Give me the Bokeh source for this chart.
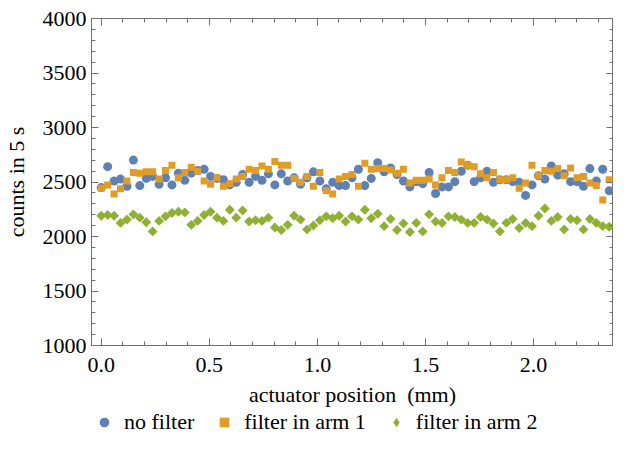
import numpy as np
from math import pi
from bokeh.plotting import figure
from bokeh.layouts import column
from bokeh.models import (LinearAxis, Legend, LegendItem, Range1d,
                          SingleIntervalTicker, PrintfTickFormatter)
from bokeh.embed import file_html
from bokeh.resources import INLINE

# actuator positions (mm), regular scan of 80 steps
position = np.linspace(0.0, 2.35, 80)

no_filter = [2449, 2641, 2509, 2527, 2461, 2701, 2467, 2533, 2551, 2479,
             2539, 2473, 2581, 2515, 2581, 2605, 2617, 2551, 2533, 2521,
             2473, 2497, 2569, 2497, 2551, 2515, 2575, 2473, 2575, 2509,
             2539, 2479, 2539, 2593, 2509, 2437, 2497, 2467, 2467, 2539,
             2617, 2467, 2533, 2677, 2593, 2629, 2569, 2509, 2455, 2503,
             2485, 2587, 2395, 2455, 2455, 2503, 2599, 2653, 2503, 2539,
             2599, 2497, 2521, 2521, 2503, 2497, 2377, 2473, 2557, 2527,
             2647, 2563, 2575, 2503, 2503, 2461, 2623, 2509, 2617, 2419]

filter_arm1 = [2443, 2473, 2389, 2437, 2509, 2587, 2581, 2593, 2593, 2527,
               2605, 2653, 2539, 2587, 2635, 2599, 2509, 2479, 2539, 2461,
               2485, 2527, 2551, 2617, 2605, 2647, 2617, 2689, 2653, 2653,
               2533, 2497, 2551, 2461, 2587, 2419, 2389, 2527, 2551, 2569,
               2461, 2671, 2617, 2623, 2623, 2611, 2581, 2617, 2491, 2515,
               2515, 2527, 2473, 2539, 2605, 2587, 2683, 2653, 2641, 2575,
               2539, 2587, 2521, 2521, 2539, 2443, 2491, 2653, 2557, 2605,
               2599, 2623, 2557, 2629, 2539, 2551, 2491, 2467, 2335, 2521]

filter_arm2 = [2191, 2197, 2191, 2125, 2155, 2203, 2173, 2131, 2047, 2143,
               2185, 2215, 2227, 2221, 2107, 2143, 2197, 2227, 2173, 2143,
               2245, 2173, 2239, 2137, 2149, 2143, 2173, 2083, 2059, 2107,
               2191, 2155, 2065, 2101, 2149, 2185, 2167, 2191, 2137, 2185,
               2155, 2245, 2167, 2209, 2095, 2161, 2059, 2119, 2041, 2125,
               2047, 2203, 2137, 2125, 2185, 2179, 2155, 2125, 2125, 2179,
               2155, 2119, 2047, 2125, 2161, 2077, 2125, 2095, 2191, 2257,
               2143, 2179, 2065, 2161, 2149, 2065, 2161, 2125, 2095, 2089]

labels = ["no filter", "filter in arm 1", "filter in arm 2"]
colors = ["#5E81B5", "#E09C24", "#8FB032"]

FONT = "Liberation Serif"
FS = "22px"
FRAME = "#707070"

p = figure(width=613, height=409, x_range=Range1d(-0.045, 2.37),
           y_range=Range1d(1000, 4000), output_backend="svg",
           toolbar_location=None, min_border_left=84, min_border_top=18,
           min_border_right=0, min_border_bottom=60)
p.grid.visible = False
p.outline_line_color = FRAME
p.background_fill_color = "white"
p.border_fill_color = "white"

xt = SingleIntervalTicker(interval=0.5, num_minor_ticks=5)
yt = SingleIntervalTicker(interval=500, num_minor_ticks=5)

def style(ax, show_labels):
    ax.axis_line_color = FRAME
    ax.major_tick_line_color = FRAME
    ax.minor_tick_line_color = FRAME
    ax.major_tick_in = 7
    ax.major_tick_out = 0
    ax.minor_tick_in = 4
    ax.minor_tick_out = 0
    ax.major_label_text_font = FONT
    ax.major_label_text_color = "black"
    ax.axis_label_text_font = FONT
    ax.axis_label_text_font_size = FS
    ax.axis_label_text_font_style = "normal"
    ax.axis_label_text_color = "black"
    if show_labels:
        ax.major_label_text_font_size = FS
    else:
        ax.major_label_text_alpha = 0
        ax.major_label_text_font_size = "1px"
        ax.major_label_standoff = 0
        ax.axis_label_standoff = 0

p.xaxis.ticker = xt
p.yaxis.ticker = yt
p.xaxis.formatter = PrintfTickFormatter(format="%.1f")
style(p.xaxis[0], True)
style(p.yaxis[0], True)
p.xaxis.axis_label = "actuator position\u00a0 (mm)"
p.yaxis.axis_label = "counts in 5 s"
p.xaxis.major_label_standoff = 12
p.xaxis.axis_label_standoff = 7
p.yaxis.major_label_standoff = 5
p.yaxis.axis_label_standoff = 11

top = LinearAxis(ticker=xt)
right = LinearAxis(ticker=yt)
style(top, False)
style(right, False)
p.add_layout(top, "above")
p.add_layout(right, "right")

p.scatter(position, no_filter, marker="circle", size=9,
          fill_color=colors[0], line_color=None)
p.scatter(position, filter_arm1, marker="square", size=7,
          fill_color=colors[1], line_color=None)
p.scatter(position, filter_arm2, marker="square", angle=pi / 4, size=7,
          fill_color=colors[2], line_color=None)

# legend strip below the plot (its frame is aligned with the plot frame)
lg = figure(width=613, height=26, x_range=Range1d(0, 1), y_range=Range1d(0, 1),
            output_backend="svg", toolbar_location=None,
            x_axis_type=None, y_axis_type=None,
            min_border_left=0, min_border_right=0, min_border_top=0,
            min_border_bottom=0)
lg.grid.visible = False
lg.outline_line_color = None
lg.background_fill_color = "white"
lg.border_fill_color = "white"
nan = [np.nan]
k1 = lg.scatter(x=nan, y=nan, marker="circle", fill_color=colors[0], line_color=None)
k2 = lg.scatter(x=nan, y=nan, marker="square", fill_color=colors[1], line_color=None)
k3 = lg.scatter(x=nan, y=nan, marker="diamond", fill_color=colors[2], line_color=None)

legend = Legend(items=[LegendItem(label=labels[0], renderers=[k1]),
                       LegendItem(label=labels[1], renderers=[k2]),
                       LegendItem(label=labels[2], renderers=[k3])],
                orientation="horizontal", location=(1, 0),
                border_line_color=None, background_fill_alpha=0,
                label_text_font=FONT, label_text_font_size=FS,
                label_text_color="black",
                glyph_width=24, glyph_height=26, label_standoff=8,
                spacing=18, padding=0, margin=0)
lg.add_layout(legend, "center")

open("out.html", "w").write(file_html(column(p, lg, spacing=0), INLINE))
